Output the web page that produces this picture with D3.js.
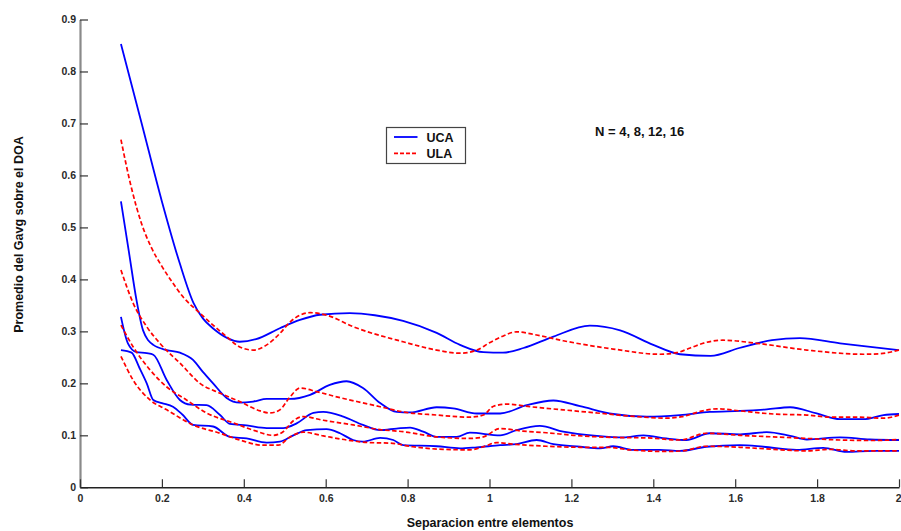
<!DOCTYPE html>
<html>
<head>
<meta charset="utf-8">
<script src="https://cdn.jsdelivr.net/npm/d3@7"></script>
<style>
  html, body { margin: 0; padding: 0; background: #fff; }
  svg { display: block; }
  text { font-family: "Liberation Sans", Arial, Helvetica, sans-serif; }
</style>
</head>
<body>
<svg id="chart" width="901" height="531"></svg>
<script>
// Average Gavg over the DOA vs. element spacing, for N = 4, 8, 12, 16
// UCA: uniform circular array, ULA: uniform linear array. Points are [spacing, value].
const uca4 = [[0.1,0.853],[0.15,0.702],[0.2,0.55],[0.244,0.43],[0.277,0.355],[0.30,0.325],[0.326,0.305],[0.36,0.287],[0.39,0.28],[0.43,0.285],[0.488,0.306],[0.537,0.322],[0.586,0.332],[0.659,0.335],[0.72,0.331],[0.789,0.32],[0.871,0.297],[0.928,0.274],[0.985,0.26],[1.033,0.259],[1.083,0.268],[1.156,0.29],[1.245,0.311],[1.319,0.302],[1.40,0.274],[1.465,0.256],[1.54,0.253],[1.61,0.268],[1.69,0.283],[1.758,0.287],[1.856,0.277],[1.93,0.27],[2.0,0.264]];
const uca8 = [[0.1,0.55],[0.12,0.45],[0.138,0.36],[0.154,0.302],[0.179,0.274],[0.212,0.264],[0.244,0.259],[0.276,0.245],[0.30,0.222],[0.325,0.2],[0.358,0.172],[0.39,0.163],[0.423,0.165],[0.456,0.17],[0.513,0.17],[0.562,0.178],[0.61,0.197],[0.651,0.204],[0.691,0.191],[0.733,0.162],[0.773,0.145],[0.806,0.144],[0.871,0.154],[0.911,0.152],[0.969,0.142],[1.026,0.142],[1.091,0.158],[1.156,0.167],[1.221,0.156],[1.302,0.141],[1.384,0.136],[1.465,0.139],[1.538,0.145],[1.612,0.147],[1.677,0.15],[1.734,0.154],[1.799,0.142],[1.856,0.131],[1.913,0.131],[1.962,0.139],[2.0,0.141]];
const uca12 = [[0.1,0.328],[0.117,0.277],[0.138,0.26],[0.163,0.258],[0.179,0.255],[0.212,0.206],[0.244,0.168],[0.27,0.159],[0.309,0.158],[0.342,0.139],[0.366,0.122],[0.407,0.119],[0.456,0.114],[0.496,0.114],[0.529,0.123],[0.57,0.143],[0.594,0.145],[0.643,0.136],[0.691,0.12],[0.733,0.11],[0.773,0.113],[0.806,0.115],[0.838,0.107],[0.871,0.097],[0.92,0.097],[0.952,0.105],[1.026,0.1],[1.066,0.11],[1.123,0.118],[1.18,0.107],[1.262,0.099],[1.327,0.096],[1.376,0.1],[1.432,0.094],[1.481,0.091],[1.538,0.104],[1.612,0.102],[1.677,0.106],[1.734,0.099],[1.775,0.092],[1.856,0.096],[1.929,0.092],[2.0,0.091]];
const uca16 = [[0.1,0.264],[0.126,0.259],[0.145,0.23],[0.163,0.2],[0.179,0.168],[0.2,0.162],[0.227,0.155],[0.25,0.14],[0.276,0.12],[0.325,0.117],[0.366,0.097],[0.407,0.094],[0.456,0.086],[0.488,0.088],[0.521,0.1],[0.554,0.11],[0.602,0.112],[0.635,0.104],[0.667,0.091],[0.691,0.088],[0.733,0.095],[0.765,0.091],[0.789,0.081],[0.871,0.079],[0.928,0.075],[0.969,0.077],[1.026,0.081],[1.066,0.083],[1.115,0.091],[1.156,0.083],[1.221,0.078],[1.27,0.075],[1.302,0.079],[1.351,0.072],[1.416,0.072],[1.465,0.07],[1.53,0.078],[1.612,0.081],[1.669,0.078],[1.75,0.072],[1.815,0.076],[1.872,0.068],[1.937,0.07],[2.0,0.07]];

const ula4 = [[0.1,0.669],[0.125,0.578],[0.15,0.508],[0.175,0.46],[0.2,0.425],[0.225,0.395],[0.252,0.366],[0.293,0.335],[0.325,0.312],[0.358,0.29],[0.39,0.27],[0.423,0.264],[0.456,0.274],[0.488,0.296],[0.513,0.318],[0.537,0.331],[0.562,0.336],[0.603,0.331],[0.667,0.309],[0.789,0.28],[0.871,0.264],[0.928,0.258],[0.969,0.264],[1.0,0.278],[1.03,0.29],[1.066,0.299],[1.115,0.293],[1.18,0.282],[1.302,0.266],[1.416,0.256],[1.457,0.259],[1.49,0.268],[1.53,0.279],[1.57,0.283],[1.653,0.277],[1.775,0.264],[1.913,0.256],[1.953,0.257],[2.0,0.264]];
const ula8 = [[0.1,0.418],[0.13,0.354],[0.163,0.309],[0.195,0.277],[0.244,0.239],[0.293,0.2],[0.342,0.181],[0.39,0.165],[0.44,0.147],[0.464,0.143],[0.488,0.149],[0.513,0.174],[0.537,0.191],[0.578,0.184],[0.627,0.174],[0.676,0.165],[0.733,0.155],[0.789,0.145],[0.871,0.139],[0.952,0.135],[0.985,0.139],[1.01,0.156],[1.042,0.16],[1.099,0.155],[1.18,0.149],[1.262,0.143],[1.343,0.137],[1.432,0.133],[1.47,0.136],[1.521,0.147],[1.555,0.151],[1.612,0.147],[1.693,0.141],[1.775,0.139],[1.832,0.135],[1.897,0.135],[1.962,0.133],[2.0,0.139]];
const ula12 = [[0.1,0.312],[0.13,0.27],[0.171,0.226],[0.212,0.193],[0.26,0.168],[0.309,0.143],[0.374,0.124],[0.423,0.11],[0.472,0.1],[0.496,0.107],[0.521,0.128],[0.545,0.136],[0.594,0.129],[0.667,0.12],[0.733,0.111],[0.789,0.107],[0.871,0.097],[0.952,0.094],[0.985,0.097],[1.026,0.113],[1.082,0.108],[1.139,0.105],[1.205,0.1],[1.302,0.096],[1.384,0.095],[1.465,0.091],[1.53,0.104],[1.612,0.1],[1.693,0.097],[1.775,0.094],[1.856,0.091],[1.937,0.09],[2.0,0.092]];
const ula16 = [[0.1,0.252],[0.13,0.206],[0.171,0.168],[0.212,0.149],[0.276,0.12],[0.342,0.104],[0.39,0.091],[0.447,0.081],[0.484,0.081],[0.513,0.097],[0.545,0.106],[0.594,0.099],[0.651,0.091],[0.708,0.086],[0.757,0.085],[0.813,0.078],[0.887,0.073],[0.952,0.072],[0.985,0.078],[1.018,0.086],[1.058,0.083],[1.139,0.079],[1.221,0.077],[1.286,0.077],[1.343,0.072],[1.432,0.069],[1.47,0.07],[1.53,0.079],[1.612,0.077],[1.693,0.073],[1.775,0.07],[1.832,0.073],[1.897,0.07],[2.0,0.07]];

const xTicks = [0, 0.2, 0.4, 0.6, 0.8, 1, 1.2, 1.4, 1.6, 1.8, 2];
const yTicks = [0, 0.1, 0.2, 0.3, 0.4, 0.5, 0.6, 0.7, 0.8, 0.9];
const legendLabels = ["UCA", "ULA"];
const xTitle = "Separacion entre elementos";
const yTitle = "Promedio del Gavg sobre el DOA";
const note = "N = 4, 8, 12, 16";

const svg = d3.select("#chart");
const plotLeft = 80, plotRight = 899, plotTop = 19.5, plotBottom = 487.3;

const x = d3.scaleLinear().domain([0, 2]).range([plotLeft, plotRight]);
const y = d3.scaleLinear().domain([0, 0.9]).range([plotBottom, plotTop]);

// Y axis (ticks pointing into the plot)
const yAxis = svg.append("g")
  .attr("transform", `translate(${plotLeft},0)`)
  .call(d3.axisLeft(y).tickValues(yTicks).tickSizeInner(-8).tickSizeOuter(0).tickPadding(12)
    .tickFormat(d => d === 0 ? "0" : d3.format(".1f")(d)));
yAxis.select(".domain").attr("stroke", "#8a8a8a").attr("stroke-width", 2.2);
yAxis.selectAll(".tick line").attr("stroke", "#333").attr("stroke-width", 1.2);
yAxis.selectAll(".tick text").attr("fill", "#2a2a2a")
  .style("font-size", "10.5px").style("font-weight", "bold").attr("x", -4);

// X axis
const xAxis = svg.append("g")
  .attr("transform", `translate(0,${plotBottom})`)
  .call(d3.axisBottom(x).tickValues(xTicks).tickSizeInner(-8).tickSizeOuter(0).tickPadding(5)
    .tickFormat(d => d3.format("~g")(d)));
xAxis.select(".domain").attr("stroke", "#222").attr("stroke-width", 1.4);
xAxis.selectAll(".tick line").attr("stroke", "#333").attr("stroke-width", 1.2);
xAxis.selectAll(".tick text").attr("fill", "#2a2a2a")
  .style("font-size", "10.5px").style("font-weight", "bold").attr("dy", "0.9em");
// keep the last label inside the frame
xAxis.selectAll(".tick text").filter(d => d === 2).attr("text-anchor", "end").attr("x", 2);

// Curves
const line = d3.line()
  .x(d => x(d[0]))
  .y(d => y(d[1]))
  .curve(d3.curveMonotoneX);

const plot = svg.append("g");
[uca4, uca8, uca12, uca16].forEach(s => {
  plot.append("path").datum(s)
    .attr("d", line)
    .attr("fill", "none")
    .attr("stroke", "#0000ff")
    .attr("stroke-width", 1.8)
    .attr("stroke-linejoin", "round");
});
[ula4, ula8, ula12, ula16].forEach(s => {
  plot.append("path").datum(s)
    .attr("d", line)
    .attr("fill", "none")
    .attr("stroke", "#ff0000")
    .attr("stroke-width", 1.7)
    .attr("stroke-dasharray", "4.5,2.5");
});

// Legend
const lg = svg.append("g").attr("transform", "translate(386.5,127.5)");
lg.append("rect").attr("width", 79).attr("height", 36)
  .attr("fill", "#fff").attr("stroke", "#444").attr("stroke-width", 1.2);
const lgStyles = [{ c: "#0000ff", dash: null }, { c: "#ff0000", dash: "4,2" }];
legendLabels.forEach((lab, i) => {
  const yy = 9.5 + i * 16.3;
  lg.append("line").attr("x1", 7.5).attr("x2", 31).attr("y1", yy).attr("y2", yy)
    .attr("stroke", lgStyles[i].c).attr("stroke-width", 1.8)
    .attr("stroke-dasharray", lgStyles[i].dash);
  lg.append("text").attr("x", 40).attr("y", yy + 4.6)
    .style("font-size", "12.5px").style("font-weight", "bold").attr("fill", "#111")
    .text(lab);
});

// Annotation
svg.append("text").attr("x", 595).attr("y", 136)
  .style("font-size", "13px").style("font-weight", "bold").attr("fill", "#111")
  .text(note);

// Axis titles
svg.append("text").attr("x", 490).attr("y", 527)
  .attr("text-anchor", "middle")
  .style("font-size", "12.5px").style("font-weight", "bold").attr("fill", "#111")
  .text(xTitle);
svg.append("text")
  .attr("transform", "translate(23,234.5) rotate(-90)")
  .attr("text-anchor", "middle")
  .style("font-size", "12.5px").style("font-weight", "bold").attr("fill", "#111")
  .text(yTitle);
</script>
</body>
</html>
